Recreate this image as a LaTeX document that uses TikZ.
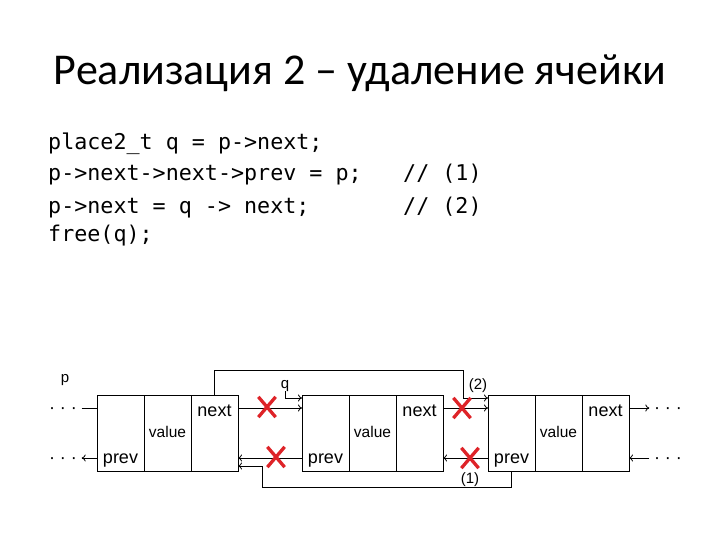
\documentclass[tikz,border=0pt]{standalone}
\usepackage{fontspec}
\setmainfont{Liberation Sans}
\setmonofont{DejaVu Sans Mono}
\newfontfamily\titlefont{Carlito}
\usetikzlibrary{arrows, arrows.meta, positioning, shapes.misc, calc}
\definecolor{xred}{RGB}{222,35,40}
\tikzset{%
	cell/.style={draw, rectangle, minimum width=47pt, minimum height=76pt,%
		inner sep=0pt, outer sep=0pt, line width=0.8pt},
	fld/.style={font=\fontsize{18}{18}\selectfont, inner sep=0pt, anchor=base},
	valfld/.style={font=\fontsize{15.5}{16}\selectfont, inner sep=0pt, anchor=base},
	lbl/.style={font=\fontsize{15}{15}\selectfont, inner sep=0pt, anchor=base},
	ellip/.style={font=\fontsize{18}{18}\selectfont, inner ysep=1pt, inner xsep=4.5pt, anchor=base},
	connector/.style={line width=0.8pt},
	sel/.style={-{To[length=4pt, width=7pt]}, line width=0.8pt},
	strike/.style={cross out, draw=xred, line width=3.3pt, minimum width=14pt,%
		minimum height=17pt, inner sep=0pt},
	code/.style={font=\ttfamily\fontsize{21.7}{22}\selectfont, inner sep=0pt, anchor=base west}
}

\begin{document}
\begin{tikzpicture}[x=1pt, y=-1pt]
	\useasboundingbox (0,0) rectangle (720,540);
	\node[font=\titlefont\fontsize{44}{48}\selectfont, anchor=base, inner sep=0pt] (title) at (360,85) {Реализация 2 – удаление ячейки};
	
	\node[code] (l1) at (48,150) {place2\_t q = p->next;};
	\node[code] (l2) at (48,181) {p->next->next->prev = p;};
	\node[code] (l3) at (48,214) {p->next = q -> next;};
	\node[code] (l4) at (48,241) {free(q);};
	\node[code] (c1l) at (403,181) {// (1)};
	\node[code] (c2l) at (403,214) {// (2)};
	
	\node[cell] (a1) at (120.5,433) {};
	\node[cell, right=0pt of a1] (a2) {};
	\node[cell, right=0pt of a2] (a3) {};
	\node[cell] (b1) at (325.5,433) {};
	\node[cell, right=0pt of b1] (b2) {};
	\node[cell, right=0pt of b2] (b3) {};
	\node[cell] (c1) at (511.5,433) {};
	\node[cell, right=0pt of c1] (c2) {};
	\node[cell, right=0pt of c2] (c3) {};
	
	\node[fld] (pa) at ($(a1)+(0,30)$) {prev};
	\node[valfld] (va) at ($(a2)+(0,4)$) {value};
	\node[fld] (na) at ($(a3)+(0,-17)$) {next};
	\node[fld] (pb) at ($(b1)+(0,30)$) {prev};
	\node[valfld] (vb) at ($(b2)+(0,4)$) {value};
	\node[fld] (nb) at ($(b3)+(0,-17)$) {next};
	\node[fld] (pc) at ($(c1)+(0,30)$) {prev};
	\node[valfld] (vc) at ($(c2)+(0,4)$) {value};
	\node[fld] (nc) at ($(c3)+(0,-17)$) {next};
	
	\node[ellip] (ld1) at (63,413.5) {· · ·};
	\node[ellip] (ld2) at (63,463.5) {· · ·};
	\node[ellip] (rd1) at (668,413.5) {· · ·};
	\node[ellip] (rd2) at (668,463.5) {· · ·};
	
	\node[lbl] (p) at (65,382) {p};
	\node[lbl] (q) at (285,388) {q};
	\node[lbl] (two) at (478,389) {(2)};
	\node[lbl] (one) at (470,483) {(1)};
	
	\coordinate (nx) at (0,408);
	\coordinate (pv) at (0,458);
	\coordinate (up) at (0,398);
	\coordinate (lo) at (0,466);
	\coordinate (tp) at (463,370);
	\coordinate (bt) at (262,487);
	
	\draw[connector] (ld1.east |- nx) to (a1.west |- nx);
	\draw[sel] (a1.west |- pv) to (ld2.east |- pv);
	\draw[sel] (a3.east |- nx) to (b1.west |- nx);
	\draw[sel] (b3.east |- nx) to (c1.west |- nx);
	\draw[sel] (c3.east |- nx) to (rd1.west |- nx);
	\draw[sel] (b1.west |- pv) to (a3.east |- pv);
	\draw[sel] (c1.west |- pv) to (b3.east |- pv);
	\draw[sel] (rd2.west |- pv) to (c3.east |- pv);
	% (2)
	\draw[sel] (a3.north) |- (tp) |- (c1.west |- up);
	\draw[sel] (q.south) |- (b1.west |- up);
	% (1)
	\draw[sel] (c1.south) |- (bt) |- (a3.east |- lo);
	
	\node[strike] (x1) at (267,407) {};
	\node[strike] (x2) at (462,408) {};
	\node[strike] (x3) at (276,457) {};
	\node[strike] (x4) at (470,458) {};
\end{tikzpicture}
\end{document}
